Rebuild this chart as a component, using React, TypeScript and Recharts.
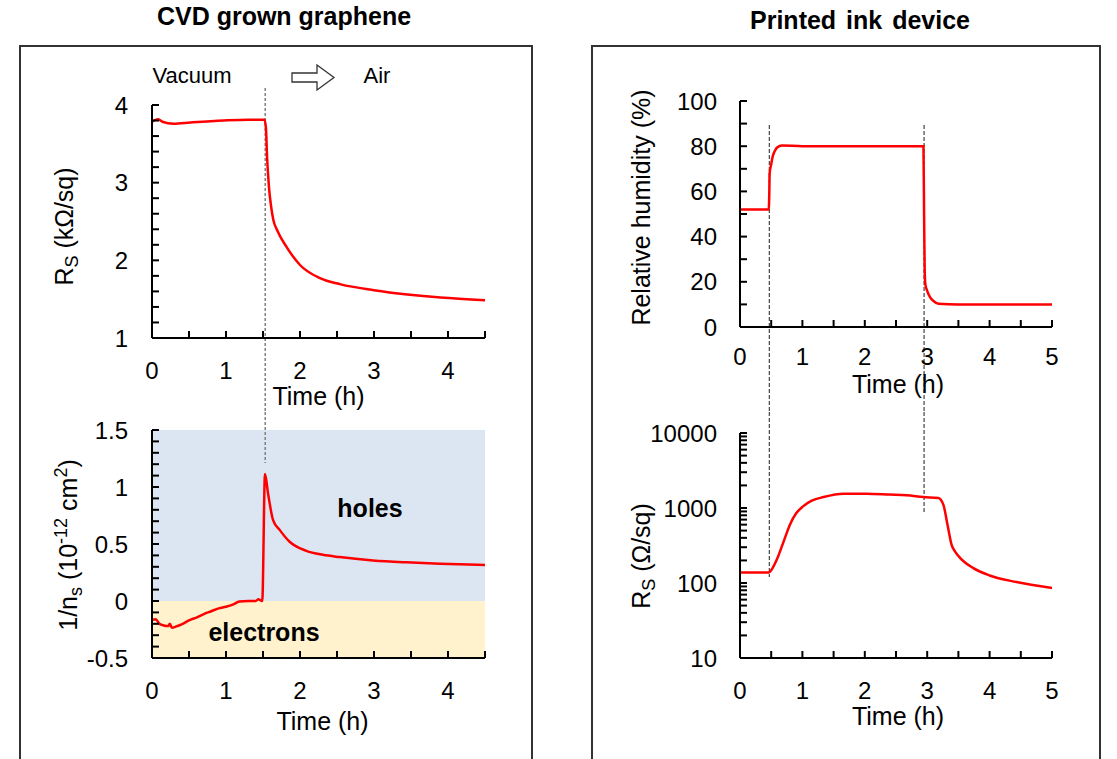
import React from 'react';
import { LineChart, Line, XAxis, YAxis, ReferenceLine, ReferenceArea, Label } from 'recharts';

const FONT = '"Liberation Sans", Arial, Helvetica, sans-serif';

// CVD grown graphene: sheet resistance (kOhm/sq) vs time (h)
const cvdRsTime = [0, 0.08, 0.14, 0.29, 0.52, 0.97, 1.3, 1.52, 1.54, 1.555, 1.58, 1.61, 1.64, 1.69, 1.82, 2.0, 2.27, 2.55, 3.0, 3.45, 3.9, 4.5];
const cvdRs = [3.785, 3.815, 3.785, 3.76, 3.775, 3.8, 3.81, 3.81, 3.7, 3.33, 2.95, 2.69, 2.52, 2.39, 2.17, 1.94, 1.77, 1.69, 1.615, 1.56, 1.52, 1.486];

// CVD grown graphene: 1/n_s (10^-12 cm^2) vs time (h)
const cvdNsTime = [0, 0.05, 0.1, 0.16, 0.22, 0.24, 0.27, 0.32, 0.4, 0.5, 0.6, 0.7, 0.8, 0.9, 1.0, 1.1, 1.18, 1.3, 1.4, 1.44, 1.47, 1.49, 1.527, 1.568, 1.635, 1.725, 1.86, 2.086, 2.31, 2.536, 2.986, 3.437, 3.887, 4.5];
const cvdNs = [-0.165, -0.16, -0.2, -0.215, -0.22, -0.2, -0.235, -0.225, -0.205, -0.17, -0.145, -0.115, -0.09, -0.065, -0.05, -0.03, -0.005, 0, 0, 0.015, 0.005, 0, 1.115, 0.945, 0.712, 0.624, 0.52, 0.44, 0.405, 0.385, 0.356, 0.339, 0.327, 0.316];

// Printed ink device: relative humidity (%) vs time (h)
const rhTime = [0, 0.46, 0.47, 0.475, 0.5, 0.52, 0.56, 0.6, 0.67, 1.0, 2.0, 2.94, 2.95, 2.96, 2.97, 3.0, 3.05, 3.1, 3.18, 3.5, 4.0, 5.0];
const rh = [52, 52, 60, 68, 72, 75, 78, 79.5, 80.3, 80, 80, 80, 50, 25, 19, 16, 13, 11.5, 10.3, 10, 10, 10];

// Printed ink device: sheet resistance (Ohm/sq) vs time (h)
const inkRsTime = [0, 0.46, 0.51, 0.59, 0.69, 0.8, 0.9, 1.01, 1.15, 1.34, 1.66, 2.03, 2.4, 2.67, 2.94, 3.18, 3.26, 3.33, 3.39, 3.45, 3.53, 3.74, 4.0, 4.43, 5.0];
const inkRs = [138, 138, 152, 205, 340, 600, 850, 1050, 1250, 1400, 1550, 1550, 1510, 1480, 1400, 1360, 1100, 570, 325, 260, 215, 158, 126, 103, 86];

// switch times (h)
const cvdSwitch = 1.53;
const inkSwitches = [0.47, 2.95];

// ticks (all) and the ones that carry a label
const cvdTimeTicks = [0, 0.5, 1, 1.5, 2, 2.5, 3, 3.5, 4, 4.5];
const cvdTimeLabels = [0, 1, 2, 3, 4];
const cvdRsTicks = [1, 1.2, 1.4, 1.6, 1.8, 2, 2.2, 2.4, 2.6, 2.8, 3, 3.2, 3.4, 3.6, 3.8, 4];
const cvdRsLabels = [1, 2, 3, 4];
const cvdNsTicks = [-0.5, -0.4, -0.3, -0.2, -0.1, 0, 0.1, 0.2, 0.3, 0.4, 0.5, 0.6, 0.7, 0.8, 0.9, 1, 1.1, 1.2, 1.3, 1.4, 1.5];
const cvdNsLabels = [-0.5, 0, 0.5, 1, 1.5];
const inkTimeTicks = [0, 0.5, 1, 1.5, 2, 2.5, 3, 3.5, 4, 4.5, 5];
const inkTimeLabels = [0, 1, 2, 3, 4, 5];
const rhTicks = [0, 10, 20, 30, 40, 50, 60, 70, 80, 90, 100];
const rhLabels = [0, 20, 40, 60, 80, 100];
const inkRsTicks = [10, 20, 30, 40, 50, 60, 70, 80, 90, 100, 200, 300, 400, 500, 600, 700, 800, 900, 1000, 2000, 3000, 4000, 5000, 6000, 7000, 8000, 9000, 10000];
const inkRsLabels = [10, 100, 1000, 10000];

const toRows = (t: number[], v: number[]) => t.map((x, i) => ({ t: x, v: v[i] }));
const only = (labels: number[]) => (v: number) => (labels.includes(v) ? String(v) : '');

const TICK = 24;
const TITLE = 25;
const axisStyle = { stroke: '#000', strokeWidth: 2 };
const tickStyle = { fontSize: TICK, fill: '#000', fontFamily: FONT };

const xTitle = (dy: number, dx = 0) => (props: any) => {
  const vb = props.viewBox || { x: 0, y: 0, width: 0 };
  return (
    <text x={vb.x + vb.width / 2 + dx} y={vb.y + dy} textAnchor="middle" fontSize={TITLE} fontFamily={FONT} fill="#000">
      Time (h)
    </text>
  );
};

const yTitle = (x: number, shift: number, content: React.ReactNode) => (props: any) => {
  const vb = props.viewBox || { y: 0, height: 0 };
  const y = vb.y + vb.height / 2 + shift;
  return (
    <text x={x} y={y} transform={`rotate(-90 ${x} ${y})`} textAnchor="middle" fontSize={TITLE} fontFamily={FONT} fill="#000">
      {content}
    </text>
  );
};

const S = TITLE;
const lineProps = { type: 'monotone' as const, dataKey: 'v', stroke: '#FF0000', strokeWidth: 2.5, dot: false, isAnimationActive: false };
const cvdDash = { stroke: '#808080', strokeWidth: 1.5, strokeDasharray: '3 2', ifOverflow: 'visible' as const };
const inkDash = { stroke: '#444', strokeWidth: 1.2, strokeDasharray: '4 2', ifOverflow: 'visible' as const };

export default function App() {
  return (
    <div style={{ position: 'absolute', left: 0, top: 0, width: 1117, height: 759, overflow: 'hidden', background: '#fff', fontFamily: FONT }}>
      <div style={{ position: 'absolute', left: 19, top: 45, width: 510, height: 740, border: '2px solid #333' }} />
      <div style={{ position: 'absolute', left: 591, top: 45, width: 506, height: 740, border: '2px solid #333' }} />

      {/* top left: R_S of CVD graphene */}
      <div style={{ position: 'absolute', left: 0, top: 80 }}>
        <LineChart width={540} height={340} data={toRows(cvdRsTime, cvdRs)} margin={{ top: 25, right: 55, bottom: 0, left: 0 }}>
          <XAxis type="number" dataKey="t" domain={[0, 4.5]} ticks={cvdTimeTicks} interval={0} tickFormatter={only(cvdTimeLabels)}
            height={82} axisLine={axisStyle} tickLine={axisStyle} tickSize={-7} tickMargin={31} tick={tickStyle}>
            <Label content={xTitle(67)} />
          </XAxis>
          <YAxis type="number" domain={[1, 4]} ticks={cvdRsTicks} interval={0} tickFormatter={only(cvdRsLabels)}
            width={152} axisLine={axisStyle} tickLine={axisStyle} tickSize={-7} tickMargin={31} tick={tickStyle}>
            <Label content={yTitle(73, 5, <>
              <tspan>R</tspan>
              <tspan fontSize={S * 0.72} dy={S * 0.2}>S</tspan>
              <tspan dy={-S * 0.2}>{' (kΩ/sq)'}</tspan>
            </>)} />
          </YAxis>
          <ReferenceLine segment={[{ x: cvdSwitch, y: 4.22 }, { x: cvdSwitch, y: 0.042 }]} {...cvdDash} />
          <Line {...lineProps} />
        </LineChart>
      </div>

      {/* bottom left: 1/n_s of CVD graphene */}
      <div style={{ position: 'absolute', left: 0, top: 405 }}>
        <LineChart width={540} height={354} data={toRows(cvdNsTime, cvdNs)} margin={{ top: 25, right: 55, bottom: 0, left: 0 }}>
          <XAxis type="number" dataKey="t" domain={[0, 4.5]} ticks={cvdTimeTicks} interval={0} tickFormatter={only(cvdTimeLabels)}
            height={101} axisLine={axisStyle} tickLine={axisStyle} tickSize={-7} tickMargin={31} tick={tickStyle}>
            <Label content={xTitle(72, 4)} />
          </XAxis>
          <YAxis type="number" domain={[-0.5, 1.5]} ticks={cvdNsTicks} interval={0} tickFormatter={only(cvdNsLabels)}
            width={152} axisLine={axisStyle} tickLine={axisStyle} tickSize={-7} tickMargin={31} tick={tickStyle}>
            <Label content={yTitle(77, 1, <>
              <tspan>1/n</tspan>
              <tspan fontSize={S * 0.72} dy={S * 0.2}>s</tspan>
              <tspan dy={-S * 0.2}>{' (10'}</tspan>
              <tspan fontSize={S * 0.72} dy={-S * 0.4}>-12</tspan>
              <tspan dy={S * 0.4}>{' cm'}</tspan>
              <tspan fontSize={S * 0.72} dy={-S * 0.4}>2</tspan>
              <tspan dy={S * 0.4}>)</tspan>
            </>)} />
          </YAxis>
          <ReferenceArea x1={0} x2={4.5} y1={0} y2={1.5} fill="#DCE6F2" fillOpacity={1} stroke="none" />
          <ReferenceArea x1={0} x2={4.5} y1={-0.5} y2={0} fill="#FFF2CC" fillOpacity={1} stroke="none" />
          <ReferenceLine segment={[{ x: cvdSwitch, y: 1.658 }, { x: cvdSwitch, y: 1.21 }]} {...cvdDash} />
          <Line {...lineProps} />
        </LineChart>
      </div>

      {/* top right: relative humidity */}
      <div style={{ position: 'absolute', left: 560, top: 80 }}>
        <LineChart width={557} height={340} data={toRows(rhTime, rh)} margin={{ top: 21, right: 65, bottom: 0, left: 0 }}>
          <XAxis type="number" dataKey="t" domain={[0, 5]} ticks={inkTimeTicks} interval={0} tickFormatter={only(inkTimeLabels)}
            height={93} axisLine={axisStyle} tickLine={axisStyle} tickSize={-7} tickMargin={28} tick={tickStyle}>
            <Label content={xTitle(66, 2)} />
          </XAxis>
          <YAxis type="number" domain={[0, 100]} ticks={rhTicks} interval={0} tickFormatter={only(rhLabels)}
            width={180} axisLine={axisStyle} tickLine={axisStyle} tickSize={-7} tickMargin={30} tick={tickStyle}>
            <Label content={yTitle(90, -6.5, <tspan>Relative humidity (%)</tspan>)} />
          </YAxis>
          {inkSwitches.map((sw) => (
            <ReferenceLine key={sw} segment={[{ x: sw, y: 89.4 }, { x: sw, y: -37.8 }]} {...inkDash} />
          ))}
          <Line {...lineProps} />
        </LineChart>
      </div>

      {/* bottom right: R_S of printed ink (log) */}
      <div style={{ position: 'absolute', left: 560, top: 405 }}>
        <LineChart width={557} height={354} data={toRows(inkRsTime, inkRs)} margin={{ top: 28, right: 65, bottom: 0, left: 0 }}>
          <XAxis type="number" dataKey="t" domain={[0, 5]} ticks={inkTimeTicks} interval={0} tickFormatter={only(inkTimeLabels)}
            height={101} axisLine={axisStyle} tickLine={axisStyle} tickSize={-7} tickMargin={31} tick={tickStyle}>
            <Label content={xTitle(67, 2)} />
          </XAxis>
          <YAxis type="number" scale="log" domain={[10, 10000]} allowDataOverflow ticks={inkRsTicks} interval={0} tickFormatter={only(inkRsLabels)}
            width={180} axisLine={axisStyle} tickLine={axisStyle} tickSize={-7} tickMargin={30} tick={tickStyle}>
            <Label content={yTitle(90, 10.5, <>
              <tspan>R</tspan>
              <tspan fontSize={S * 0.72} dy={S * 0.2}>S</tspan>
              <tspan dy={-S * 0.2}>{' (Ω/sq)'}</tspan>
            </>)} />
          </YAxis>
          <ReferenceLine segment={[{ x: inkSwitches[0], y: 19050 }, { x: inkSwitches[0], y: 120 }]} {...inkDash} />
          <ReferenceLine segment={[{ x: inkSwitches[1], y: 19050 }, { x: inkSwitches[1], y: 885 }]} {...inkDash} />
          <Line {...lineProps} />
        </LineChart>
      </div>

      {/* titles and annotations */}
      <svg width={1117} height={759} style={{ position: 'absolute', left: 0, top: 0, pointerEvents: 'none' }}>
        <text x={284} y={25} textAnchor="middle" fontSize={25} fontWeight="bold" fontFamily={FONT} fill="#000">CVD grown graphene</text>
        <text x={860} y={29} textAnchor="middle" fontSize={25} fontWeight="bold" fontFamily={FONT} fill="#000" wordSpacing={3}>Printed ink device</text>
        <text x={192} y={83} textAnchor="middle" fontSize={22} fontFamily={FONT} fill="#000">Vacuum</text>
        <polygon points="292,73 317,73 317,65 334,77.5 317,90 317,82 292,82" fill="#fff" stroke="#333" strokeWidth={1.3} />
        <text x={377} y={83} textAnchor="middle" fontSize={22} fontFamily={FONT} fill="#000">Air</text>
        <text x={370} y={517} textAnchor="middle" fontSize={25} fontWeight="bold" fontFamily={FONT} fill="#000">holes</text>
        <text x={264} y={641} textAnchor="middle" fontSize={25} fontWeight="bold" fontFamily={FONT} fill="#000">electrons</text>
      </svg>
    </div>
  );
}
